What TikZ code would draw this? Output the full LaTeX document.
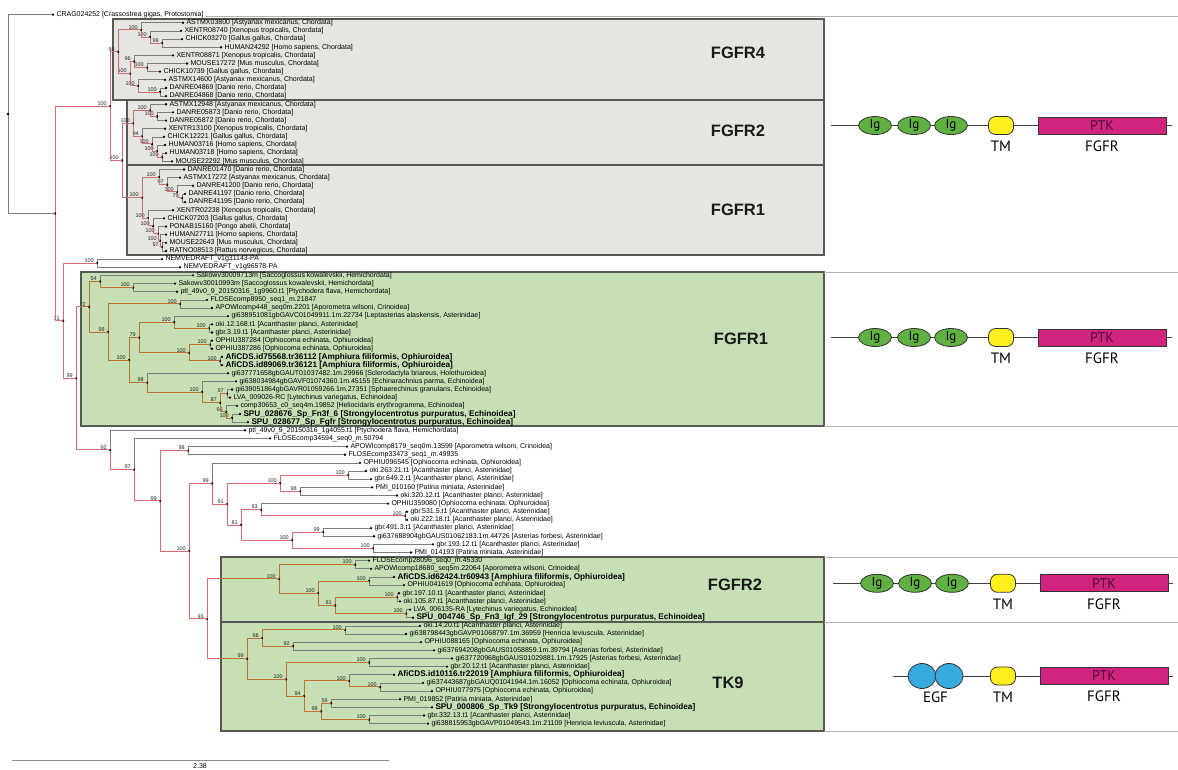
\documentclass[tikz,border=0pt]{standalone}
\usepackage{fontspec}
\setmainfont{Liberation Sans}
\newfontfamily\domfont{PT Sans}
\usetikzlibrary{calc, positioning, shapes.geometric}

\definecolor{redbranch}{RGB}{212,110,110}
\definecolor{orabranch}{RGB}{192,114,46}
\definecolor{greybranch}{RGB}{125,125,125}
\definecolor{greybox}{RGB}{229,229,225}
\definecolor{greenbox}{RGB}{198,223,181}
\definecolor{boxedge}{RGB}{85,90,85}
\definecolor{igfill}{RGB}{96,176,66}
\definecolor{tmfill}{RGB}{255,240,30}
\definecolor{ptkfill}{RGB}{208,36,126}
\definecolor{ptktext}{RGB}{80,10,60}
\definecolor{egffill}{RGB}{56,170,222}

\tikzset{
  leafdot/.style={circle, fill=black, inner sep=0pt, minimum size=2.6pt},
  tiplabel/.style={anchor=west, inner sep=0pt, xshift=1.8pt, font=\fontsize{7}{7}\selectfont},
  boot/.style={anchor=south east, inner sep=0.5pt, xshift=-2.5pt, font=\fontsize{5.5}{5.5}\selectfont, text=black!85},
  twig/.style={draw=greybranch, line width=0.7pt},
  redstem/.style={draw=redbranch, line width=1pt},
  orastem/.style={draw=orabranch, line width=1pt},
  greyclade/.style={fill=greybox, draw=boxedge, line width=1.3pt},
  greenclade/.style={fill=greenbox, draw=boxedge, line width=1.3pt},
  cladename/.style={font=\fontsize{16.5}{16.5}\selectfont\bfseries, text=black!90},
  rowrule/.style={draw=black!30, line width=0.8pt},
  domline/.style={draw=black!75, line width=1pt},
  igdom/.style={ellipse, draw=black!80, fill=igfill, line width=0.8pt, minimum width=33pt, minimum height=18pt, inner sep=0pt, font=\domfont\fontsize{13}{13}\selectfont},
  egfdom/.style={ellipse, draw=black!80, fill=egffill, line width=0.8pt, minimum width=28pt, minimum height=25pt, inner sep=0pt},
  tmdom/.style={rectangle, rounded corners=7pt, draw=black!80, fill=tmfill, line width=0.8pt, minimum width=25pt, minimum height=18pt, inner sep=0pt},
  ptkdom/.style={rectangle, draw=black!80, fill=ptkfill, line width=0.8pt, minimum width=128pt, minimum height=17pt, inner sep=0pt, text=ptktext, font=\domfont\fontsize{14}{14}\selectfont},
  domlabel/.style={inner sep=0pt, font=\domfont\fontsize{15}{15}\selectfont}
}

\newcommand\boldtip[1]{{\fontsize{8.2}{8.2}\selectfont\bfseries #1}}
\newcommand\leaf[4]{%
  \node[leafdot] (#1) at (#3,{14.6+8.15*(#2-1)}) {};
  \node[tiplabel] (#1-t) at (#1.east) {#4};}
\newcommand\clade[7]{%
  \coordinate (#1-m) at ($(#3)!.5!(#5)$);
  \coordinate (#1) at (#2,0 |- #1-m);
  \draw[#4] (#1) |- (#3);
  \draw[#6] (#1) |- (#5);
  \fill (#1) circle (1.3pt);
  \node[boot] (#1-b) at (#1) {#7};}

\begin{document}
\begin{tikzpicture}[x=1pt, y=-1pt]
\useasboundingbox (0,0) rectangle (1178,769);

\draw[greyclade] (113,19) rectangle (824,100);
\draw[greyclade] (127,100) rectangle (824,165);
\draw[greyclade] (127,165) rectangle (824,255);
\draw[greenclade] (81,272) rectangle (824,426);
\draw[greenclade] (221,557) rectangle (824,622);
\draw[greenclade] (221,622) rectangle (824,731);
\draw[rowrule] (824,272) -- (1178,272);
\draw[rowrule] (824,426) -- (1178,426);
\draw[rowrule] (824,557) -- (1178,557);
\draw[rowrule] (824,622) -- (1178,622);
\draw[rowrule] (824,731) -- (1178,731);

\node[cladename] (nfgfr4) at (738,53) {FGFR4};
\node[cladename] (nfgfr2) at (738,131) {FGFR2};
\node[cladename] (nfgfr1) at (738,210) {FGFR1};
\node[cladename] (nfgfr1g) at (741,339) {FGFR1};
\node[cladename] (nfgfr2g) at (735,585) {FGFR2};
\node[cladename] (ntk9) at (728,683) {TK9};

\leaf{crag}{1}{53}{CRAG024252 [Crassostrea gigas, Protostomia]}
\leaf{astmxa}{2}{183}{ASTMX03800 [Astyanax mexicanus, Chordata]}
\leaf{xentra}{3}{181}{XENTR08740 [Xenopus tropicalis, Chordata]}
\leaf{chicka}{4}{182}{CHICK03270 [Gallus gallus, Chordata]}
\leaf{humana}{5}{221}{HUMAN24292 [Homo sapiens, Chordata]}
\leaf{xentrb}{6}{173}{XENTR08871 [Xenopus tropicalis, Chordata]}
\leaf{mousea}{7}{187}{MOUSE17272 [Mus musculus, Chordata]}
\leaf{chickb}{8}{160}{CHICK10739 [Gallus gallus, Chordata]}
\leaf{astmxb}{9}{165}{ASTMX14600 [Astyanax mexicanus, Chordata]}
\leaf{danrea}{10}{166}{DANRE04869 [Danio rerio, Chordata]}
\leaf{danreb}{11}{166}{DANRE04868 [Danio rerio, Chordata]}
\leaf{astmxc}{12}{166}{ASTMX12948 [Astyanax mexicanus, Chordata]}
\leaf{danrec}{13}{173}{DANRE05873 [Danio rerio, Chordata]}
\leaf{danred}{14}{166}{DANRE05872 [Danio rerio, Chordata]}
\leaf{xentrc}{15}{165}{XENTR13100 [Xenopus tropicalis, Chordata]}
\leaf{chickc}{16}{164}{CHICK12221 [Gallus gallus, Chordata]}
\leaf{humanb}{17}{165}{HUMAN03716 [Homo sapiens, Chordata]}
\leaf{humanc}{18}{166}{HUMAN03718 [Homo sapiens, Chordata]}
\leaf{mouseb}{19}{172}{MOUSE22292 [Mus musculus, Chordata]}
\leaf{danree}{20}{184}{DANRE01470 [Danio rerio, Chordata]}
\leaf{astmxd}{21}{180}{ASTMX17272 [Astyanax mexicanus, Chordata]}
\leaf{danref}{22}{193}{DANRE41200 [Danio rerio, Chordata]}
\leaf{danreg}{23}{185}{DANRE41197 [Danio rerio, Chordata]}
\leaf{danreh}{24}{185}{DANRE41195 [Danio rerio, Chordata]}
\leaf{xentrd}{25}{173}{XENTR02238 [Xenopus tropicalis, Chordata]}
\leaf{chickd}{26}{164}{CHICK07203 [Gallus gallus, Chordata]}
\leaf{ponab}{27}{166}{PONAB15160 [Pongo abelii, Chordata]}
\leaf{humand}{28}{166}{HUMAN27711 [Homo sapiens, Chordata]}
\leaf{mousec}{29}{166}{MOUSE22643 [Mus musculus, Chordata]}
\leaf{ratno}{30}{166}{RATNO08513 [Rattus norvegicus, Chordata]}
\leaf{nema}{31}{162}{NEMVEDRAFT\_v1g31143-PA}
\leaf{nemb}{32}{180}{NEMVEDRAFT\_v1g96578-PA}
\leaf{sacca}{33}{193}{Sakowv30009713m [Saccoglossus kowalevskii, Hemichordata]}
\leaf{saccb}{34}{175}{Sakowv30010993m [Saccoglossus kowalevskii, Hemichordata]}
\leaf{ptla}{35}{177}{ptl\_49v0\_9\_20150316\_1g9960.t1 [Ptychodera flava, Hemichordata]}
\leaf{flosea}{36}{207}{FLOSEcomp8950\_seq1\_m.21847}
\leaf{apowa}{37}{212}{APOWIcomp448\_seq0m.2201 [Aporometra wilsoni, Crinoidea]}
\leaf{gilep}{38}{228}{gi638951081gbGAVC01049911.1m.22734 [Leptasterias alaskensis, Asterinidae]}
\leaf{okia}{39}{212}{oki.12.168.t1 [Acanthaster planci, Asterinidae]}
\leaf{gbra}{40}{212}{gbr.3.19.t1 [Acanthaster planci, Asterinidae]}
\leaf{ophia}{41}{212}{OPHIU387284 [Ophiocoma echinata, Ophiuroidea]}
\leaf{ophib}{42}{212}{OPHIU387286 [Ophiocoma echinata, Ophiuroidea]}
\leaf{afia}{43}{222}{\boldtip{AfiCDS.id75568.tr36112 [Amphiura filiformis, Ophiuroidea]}}
\leaf{afib}{44}{222}{\boldtip{AfiCDS.id89069.tr36121 [Amphiura filiformis, Ophiuroidea]}}
\leaf{giscl}{45}{228}{gi637771658gbGAUT01037482.1m.29966 [Sclerodactyla briareus, Holothuroidea]}
\leaf{giech}{46}{236}{gi638034984gbGAVF01074360.1m.45155 [Echinarachnius parma, Echinoidea]}
\leaf{gisph}{47}{232}{gi639051864gbGAVR01059266.1m.27351 [Sphaerechinus granularis, Echinoidea]}
\leaf{lvaa}{48}{230}{LVA\_009026-RC [Lytechinus variegatus, Echinoidea]}
\leaf{comph}{49}{237}{comp30653\_c0\_seq4m.19852 [Heliocidaris erythrogramma, Echinoidea]}
\leaf{spua}{50}{240}{\boldtip{SPU\_028676\_Sp\_Fn3f\_6 [Strongylocentrotus purpuratus, Echinoidea]}}
\leaf{spub}{51}{248}{\boldtip{SPU\_028677\_Sp\_Fgfr [Strongylocentrotus purpuratus, Echinoidea]}}
\leaf{ptlb}{52}{245}{ptl\_49v0\_9\_20150316\_1g4055.t1 [Ptychodera flava, Hemichordata]}
\leaf{floseb}{53}{270}{FLOSEcomp34594\_seq0\_m.50794}
\leaf{apowb}{54}{347}{APOWIcomp8179\_seq0m.13599 [Aporometra wilsoni, Crinoidea]}
\leaf{flosec}{55}{345}{FLOSEcomp33473\_seq1\_m.49935}
\leaf{ophic}{56}{360}{OPHIU096545 [Ophiocoma echinata, Ophiuroidea]}
\leaf{okib}{57}{366}{oki.263.21.t1 [Acanthaster planci, Asterinidae]}
\leaf{gbrb}{58}{371}{gbr.649.2.t1 [Acanthaster planci, Asterinidae]}
\leaf{pmia}{59}{372}{PMI\_010160 [Patiria miniata, Asterinidae]}
\leaf{okic}{60}{397}{oki.320.12.t1 [Acanthaster planci, Asterinidae]}
\leaf{ophid}{61}{388}{OPHIU359080 [Ophiocoma echinata, Ophiuroidea]}
\leaf{gbrc}{62}{407}{gbr.531.5.t1 [Acanthaster planci, Asterinidae]}
\leaf{okid}{63}{407}{oki.222.18.t1 [Acanthaster planci, Asterinidae]}
\leaf{gbrd}{64}{371}{gbr.491.3.t1 [Acanthaster planci, Asterinidae]}
\leaf{giast}{65}{374}{gi637688904gbGAUS01062183.1m.44726 [Asterias forbesi, Asterinidae]}
\leaf{gbre}{66}{433}{gbr.193.12.t1 [Acanthaster planci, Asterinidae]}
\leaf{pmib}{67}{411}{PMI\_014193 [Patiria miniata, Asterinidae]}
\leaf{flosed}{68}{369}{FLOSEcomp28096\_seq0\_m.45330}
\leaf{apowc}{69}{371}{APOWIcomp18680\_seq5m.22064 [Aporometra wilsoni, Crinoidea]}
\leaf{afic}{70}{394}{\boldtip{AfiCDS.id62424.tr60943 [Amphiura filiformis, Ophiuroidea]}}
\leaf{ophie}{71}{404}{OPHIU041619 [Ophiocoma echinata, Ophiuroidea]}
\leaf{gbrf}{72}{399}{gbr.197.10.t1 [Acanthaster planci, Asterinidae]}
\leaf{okie}{73}{400}{oki.105.87.t1 [Acanthaster planci, Asterinidae]}
\leaf{lvab}{74}{410}{LVA\_006135-RA [Lytechinus variegatus, Echinoidea]}
\leaf{spuc}{75}{413}{\boldtip{SPU\_004746\_Sp\_Fn3\_Igf\_29 [Strongylocentrotus purpuratus, Echinoidea]}}
\leaf{okif}{76}{420}{oki.14.20.t1 [Acanthaster planci, Asterinidae]}
\leaf{gihena}{77}{406}{gi638798443gbGAVP01068797.1m.36959 [Henricia leviuscula, Asterinidae]}
\leaf{ophif}{78}{421}{OPHIU088165 [Ophiocoma echinata, Ophiuroidea]}
\leaf{giasa}{79}{434}{gi637694208gbGAUS01058859.1m.39794 [Asterias forbesi, Asterinidae]}
\leaf{giasb}{80}{452}{gi637720968gbGAUS01029881.1m.17925 [Asterias forbesi, Asterinidae]}
\leaf{gbrg}{81}{447}{gbr.20.12.t1 [Acanthaster planci, Asterinidae]}
\leaf{afid}{82}{394}{\boldtip{AfiCDS.id10116.tr22019 [Amphiura filiformis, Ophiuroidea]}}
\leaf{gioph}{83}{423}{gi637443687gbGAUQ01041944.1m.16052 [Ophiocoma echinata, Ophiuroidea]}
\leaf{ophig}{84}{432}{OPHIU077975 [Ophiocoma echinata, Ophiuroidea]}
\leaf{pmic}{85}{400}{PMI\_019852 [Patiria miniata, Asterinidae]}
\leaf{spud}{86}{432}{\boldtip{SPU\_000806\_Sp\_Tk9 [Strongylocentrotus purpuratus, Echinoidea]}}
\leaf{gbrh}{87}{424}{gbr.332.13.t1 [Acanthaster planci, Asterinidae]}
\leaf{gihenb}{88}{428}{gi638815953gbGAVP01049543.1m.21109 [Henricia leviuscula, Asterinidae]}

\draw[rowrule] ([xshift=2pt,yshift=-2pt]crag-t.east) -- (1178,16.5);

\clade{f4a}{162}{chicka}{twig}{humana}{twig}{99}
\clade{f4b}{150}{xentra}{twig}{f4a}{redstem}{100}
\clade{f4c}{141}{astmxa}{twig}{f4b}{redstem}{100}
\clade{f4d}{147}{mousea}{twig}{chickb}{twig}{100}
\clade{f4e}{134}{xentrb}{twig}{f4d}{redstem}{96}
\clade{f4f}{160}{danrea}{twig}{danreb}{twig}{100}
\clade{f4g}{138}{astmxb}{twig}{f4f}{redstem}{100}
\clade{f4h}{130}{f4e}{redstem}{f4g}{redstem}{100}
\clade{f4}{118}{f4c}{redstem}{f4h}{redstem}{95}

\clade{f2a}{157}{danrec}{twig}{danred}{twig}{100}
\clade{f2b}{150}{astmxc}{twig}{f2a}{redstem}{100}
\clade{f2c}{162}{humanc}{twig}{mouseb}{twig}{100}
\clade{f2d}{157}{humanb}{twig}{f2c}{redstem}{100}
\clade{f2e}{152}{chickc}{twig}{f2d}{redstem}{100}
\clade{f2f}{142}{xentrc}{twig}{f2e}{redstem}{94}
\clade{f2}{133}{f2b}{redstem}{f2f}{redstem}{100}

\clade{f1a}{182}{danreg}{twig}{danreh}{twig}{79}
\clade{f1b}{177}{danref}{twig}{f1a}{redstem}{100}
\clade{f1c}{167}{astmxd}{twig}{f1b}{redstem}{97}
\clade{f1d}{159}{danree}{twig}{f1c}{redstem}{100}
\clade{f1e}{162}{mousec}{twig}{ratno}{twig}{97}
\clade{f1f}{160}{humand}{twig}{f1e}{redstem}{100}
\clade{f1g}{158}{ponab}{twig}{f1f}{redstem}{100}
\clade{f1h}{153}{chickd}{twig}{f1g}{redstem}{100}
\clade{f1i}{148}{xentrd}{twig}{f1h}{redstem}{100}
\clade{f1}{142}{f1d}{redstem}{f1i}{redstem}{100}
\clade{f21}{122}{f2}{redstem}{f1}{redstem}{100}
\clade{chord}{110}{f4}{redstem}{f21}{redstem}{100}

\clade{g1a}{133}{saccb}{twig}{ptla}{twig}{100}
\clade{g1b}{100}{sacca}{twig}{g1a}{orastem}{54}
\clade{g1c}{180}{flosea}{twig}{apowa}{twig}{100}
\clade{g1d}{209}{okia}{twig}{gbra}{twig}{100}
\clade{g1e}{174}{gilep}{twig}{g1d}{orastem}{100}
\clade{g1f}{210}{ophia}{twig}{ophib}{twig}{100}
\clade{g1g}{220}{afia}{twig}{afib}{twig}{100}
\clade{g1h}{189}{g1f}{orastem}{g1g}{orastem}{100}
\clade{g1i}{139}{g1e}{orastem}{g1h}{orastem}{79}
\clade{g1j}{232}{spua}{twig}{spub}{twig}{100}
\clade{g1k}{226}{comph}{twig}{g1j}{orastem}{66}
\clade{g1l}{227}{gisph}{twig}{lvaa}{twig}{97}
\clade{g1m}{220}{g1l}{orastem}{g1k}{orastem}{87}
\clade{g1n}{202}{giech}{twig}{g1m}{orastem}{100}
\clade{g1o}{147}{giscl}{twig}{g1n}{orastem}{98}
\clade{g1p}{129}{g1i}{orastem}{g1o}{orastem}{100}
\clade{g1q}{108}{g1c}{orastem}{g1p}{orastem}{98}
\clade{g1}{89}{g1b}{orastem}{g1q}{orastem}{72}

\clade{nem}{97}{nema}{twig}{nemb}{twig}{100}
\clade{s98a}{188}{apowb}{twig}{flosec}{twig}{98}
\clade{s100a}{348}{okib}{twig}{gbrb}{twig}{100}
\clade{s98b}{300}{pmia}{twig}{okic}{twig}{98}
\clade{s100b}{280}{s100a}{redstem}{s98b}{redstem}{100}
\clade{s100c}{405}{gbrc}{twig}{okid}{twig}{100}
\clade{s93a}{261}{ophid}{twig}{s100c}{redstem}{93}
\clade{s99a}{323}{gbrd}{twig}{giast}{twig}{99}
\clade{s100d}{373}{gbre}{twig}{pmib}{twig}{100}
\clade{s100e}{292}{s99a}{redstem}{s100d}{redstem}{100}
\clade{s81}{241}{s93a}{redstem}{s100e}{redstem}{81}
\clade{s91}{227}{s100b}{redstem}{s81}{redstem}{91}
\clade{s99b}{212}{ophic}{twig}{s91}{redstem}{99}

\clade{g2a}{355}{flosed}{twig}{apowc}{twig}{100}
\clade{g2b}{369}{afic}{twig}{ophie}{twig}{100}
\clade{g2c}{397}{gbrf}{twig}{okie}{twig}{100}
\clade{g2d}{406}{lvab}{twig}{spuc}{twig}{100}
\clade{g2e}{335}{g2c}{orastem}{g2d}{orastem}{81}
\clade{g2f}{318}{g2b}{orastem}{g2e}{orastem}{100}
\clade{g2}{279}{g2a}{orastem}{g2f}{orastem}{100}

\clade{t9a}{345}{okif}{twig}{gihena}{twig}{100}
\clade{t9b}{293}{ophif}{twig}{giasa}{twig}{92}
\clade{t9c}{262}{t9a}{orastem}{t9b}{orastem}{68}
\clade{t9d}{369}{giasb}{twig}{gbrg}{twig}{100}
\clade{t9e}{380}{gioph}{twig}{ophig}{twig}{100}
\clade{t9f}{349}{afid}{twig}{t9e}{orastem}{100}
\clade{t9g}{331}{pmic}{twig}{spud}{twig}{56}
\clade{t9h}{369}{gbrh}{twig}{gihenb}{twig}{100}
\clade{t9i}{321}{t9g}{orastem}{t9h}{orastem}{98}
\clade{t9j}{304}{t9f}{orastem}{t9i}{orastem}{94}
\clade{t9k}{286}{t9d}{orastem}{t9j}{orastem}{100}
\clade{t9}{247}{t9c}{orastem}{t9k}{orastem}{99}

\clade{s93b}{207}{g2}{redstem}{t9}{redstem}{93}
\clade{s100f}{189}{s99b}{redstem}{s93b}{redstem}{100}
\clade{s99c}{160}{s98a}{redstem}{s100f}{redstem}{99}
\clade{s97}{134}{floseb}{twig}{s99c}{redstem}{97}
\clade{s92}{110}{ptlb}{twig}{s97}{redstem}{92}
\clade{s99d}{76}{g1}{redstem}{s92}{redstem}{99}
\clade{s71}{63}{nem}{redstem}{s99d}{redstem}{71}
\clade{ingrp}{55}{chord}{redstem}{s71}{redstem}{}
\clade{root}{8}{crag}{twig}{ingrp}{twig}{}

\draw[orastem] (81,0 |- g1) -- (g1);
\draw[orastem] (221,0 |- g2) -- (g2);
\draw[orastem] (221,0 |- t9) -- (t9);

\coordinate (sbl) at (12,760.7);
\coordinate (sbr) at (389,760.7);
\draw[draw=black!45, line width=1.2pt] (sbl) -- (sbr);
\node[anchor=north, inner sep=0pt, font=\fontsize{7}{7}\selectfont] (sbtext) at (200,763.5) {2.38};

\coordinate (ra-l) at (831,125.5);
\coordinate (ra-r) at (1172,125.5);
\draw[domline] (ra-l) -- (ra-r);
\node[igdom] (ra-ig1) at (875,125.5) {Ig};
\node[igdom] (ra-ig2) at (914,125.5) {Ig};
\node[igdom] (ra-ig3) at (951,125.5) {Ig};
\node[tmdom] (ra-tm) at (1001,125.5) {};
\node[ptkdom] (ra-ptk) at (1102,125.5) {PTK};
\node[domlabel, below=6pt of ra-tm] (ra-tml) {TM};
\node[domlabel, below=6pt of ra-ptk] (ra-fgfr) {FGFR};

\coordinate (rb-l) at (831,337.5);
\coordinate (rb-r) at (1172,337.5);
\draw[domline] (rb-l) -- (rb-r);
\node[igdom] (rb-ig1) at (875,337.5) {Ig};
\node[igdom] (rb-ig2) at (914,337.5) {Ig};
\node[igdom] (rb-ig3) at (951,337.5) {Ig};
\node[tmdom] (rb-tm) at (1001,337.5) {};
\node[ptkdom] (rb-ptk) at (1102,337.5) {PTK};
\node[domlabel, below=6pt of rb-tm] (rb-tml) {TM};
\node[domlabel, below=6pt of rb-ptk] (rb-fgfr) {FGFR};

\coordinate (rc-l) at (833,583.3);
\coordinate (rc-r) at (1173,583.3);
\draw[domline] (rc-l) -- (rc-r);
\node[igdom] (rc-ig1) at (877,583.3) {Ig};
\node[igdom] (rc-ig2) at (915,583.3) {Ig};
\node[igdom] (rc-ig3) at (952,583.3) {Ig};
\node[tmdom] (rc-tm) at (1003,583.3) {};
\node[ptkdom] (rc-ptk) at (1104,583.3) {PTK};
\node[domlabel, below=6pt of rc-tm] (rc-tml) {TM};
\node[domlabel, below=6pt of rc-ptk] (rc-fgfr) {FGFR};

\coordinate (rd-l) at (893,676);
\coordinate (rd-r) at (1173,676);
\draw[domline] (rd-l) -- (rd-r);
\node[egfdom] (rd-egf1) at (922,676) {};
\node[egfdom] (rd-egf2) at (949,676) {};
\node[tmdom] (rd-tm) at (1003,676) {};
\node[ptkdom] (rd-ptk) at (1104,676) {PTK};
\node[domlabel, anchor=north] (rd-egfl) at ($(rd-egf1.south)!.5!(rd-egf2.south)+(0,3)$) {EGF};
\node[domlabel, below=6pt of rd-tm] (rd-tml) {TM};
\node[domlabel, below=6pt of rd-ptk] (rd-fgfr) {FGFR};
\end{tikzpicture}
\end{document}
